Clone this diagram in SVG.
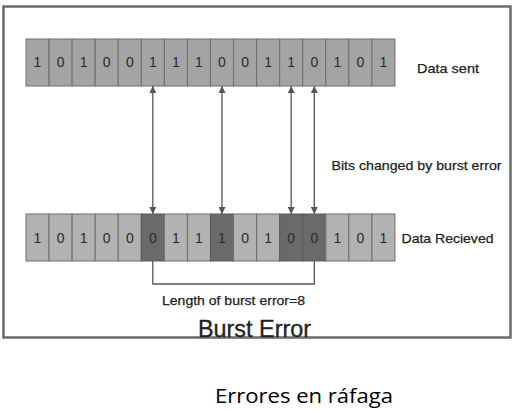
<svg xmlns="http://www.w3.org/2000/svg" width="515" height="410" viewBox="0 0 515 410">
<style>
.frame{fill:#fff;stroke:#6a6a6a;stroke-width:2.5}
.c1{fill:#a4a4a4;stroke:#6e6e6e;stroke-width:1}
.c2{fill:#b2b2b2;stroke:#6e6e6e;stroke-width:1}
.cd{fill:#6a6a6a;stroke:#5a5a5a;stroke-width:1}
.d{font-family:"Liberation Sans",Arial,sans-serif;font-size:14px;fill:#2a2a2a;text-anchor:middle}
.lbl{font-family:"Liberation Sans",Arial,sans-serif;font-size:13.5px;fill:#222;stroke:#222;stroke-width:0.25}
.conn{stroke:#555;stroke-width:1.3;fill:none}
</style>
<defs>
<marker id="ah" viewBox="0 0 10 10" refX="10" refY="5" markerWidth="7" markerHeight="7" orient="auto-start-reverse" markerUnits="userSpaceOnUse">
<path d="M0,0 L10,5 L0,10 Z" fill="#555"/>
</marker>
</defs>
<rect class="frame" x="3.5" y="6.5" width="507" height="331"/>
<g id="data-sent">
<rect class="c1" x="26" y="39" width="23.06" height="47"/>
<rect class="c1" x="49.06" y="39" width="23.06" height="47"/>
<rect class="c1" x="72.12" y="39" width="23.06" height="47"/>
<rect class="c1" x="95.18" y="39" width="23.06" height="47"/>
<rect class="c1" x="118.24" y="39" width="23.06" height="47"/>
<rect class="c1" x="141.3" y="39" width="23.06" height="47"/>
<rect class="c1" x="164.36" y="39" width="23.06" height="47"/>
<rect class="c1" x="187.42" y="39" width="23.06" height="47"/>
<rect class="c1" x="210.48" y="39" width="23.06" height="47"/>
<rect class="c1" x="233.54" y="39" width="23.06" height="47"/>
<rect class="c1" x="256.6" y="39" width="23.06" height="47"/>
<rect class="c1" x="279.66" y="39" width="23.06" height="47"/>
<rect class="c1" x="302.72" y="39" width="23.06" height="47"/>
<rect class="c1" x="325.78" y="39" width="23.06" height="47"/>
<rect class="c1" x="348.84" y="39" width="23.06" height="47"/>
<rect class="c1" x="371.9" y="39" width="23.06" height="47"/>
<text class="d" y="67"><tspan x="37.5">1</tspan><tspan x="60.6">0</tspan><tspan x="83.7">1</tspan><tspan x="106.7">0</tspan><tspan x="129.8">0</tspan><tspan x="152.8">1</tspan><tspan x="175.9">1</tspan><tspan x="199">1</tspan><tspan x="222">0</tspan><tspan x="245.1">0</tspan><tspan x="268.1">1</tspan><tspan x="291.2">1</tspan><tspan x="314.3">0</tspan><tspan x="337.3">1</tspan><tspan x="360.4">0</tspan><tspan x="383.4">1</tspan></text>
<text class="lbl" x="417" y="73" textLength="62" lengthAdjust="spacingAndGlyphs">Data sent</text>
</g>
<g id="data-received">
<rect class="c2" x="26" y="214" width="23.06" height="47"/>
<rect class="c2" x="49.06" y="214" width="23.06" height="47"/>
<rect class="c2" x="72.12" y="214" width="23.06" height="47"/>
<rect class="c2" x="95.18" y="214" width="23.06" height="47"/>
<rect class="c2" x="118.24" y="214" width="23.06" height="47"/>
<rect class="cd" x="141.3" y="214" width="23.06" height="47"/>
<rect class="c2" x="164.36" y="214" width="23.06" height="47"/>
<rect class="c2" x="187.42" y="214" width="23.06" height="47"/>
<rect class="cd" x="210.48" y="214" width="23.06" height="47"/>
<rect class="c2" x="233.54" y="214" width="23.06" height="47"/>
<rect class="c2" x="256.6" y="214" width="23.06" height="47"/>
<rect class="cd" x="279.66" y="214" width="23.06" height="47"/>
<rect class="cd" x="302.72" y="214" width="23.06" height="47"/>
<rect class="c2" x="325.78" y="214" width="23.06" height="47"/>
<rect class="c2" x="348.84" y="214" width="23.06" height="47"/>
<rect class="c2" x="371.9" y="214" width="23.06" height="47"/>
<text class="d" y="243"><tspan x="37.5">1</tspan><tspan x="60.6">0</tspan><tspan x="83.7">1</tspan><tspan x="106.7">0</tspan><tspan x="129.8">0</tspan><tspan x="152.8">0</tspan><tspan x="175.9">1</tspan><tspan x="199">1</tspan><tspan x="222">1</tspan><tspan x="245.1">0</tspan><tspan x="268.1">1</tspan><tspan x="291.2">0</tspan><tspan x="314.3">0</tspan><tspan x="337.3">1</tspan><tspan x="360.4">0</tspan><tspan x="383.4">1</tspan></text>
<text class="lbl" x="401.5" y="243" textLength="92" lengthAdjust="spacingAndGlyphs">Data Recieved</text>
</g>
<g id="connectors">
<line class="conn" x1="152.8" y1="86" x2="152.8" y2="214" marker-start="url(#ah)" marker-end="url(#ah)"/>
<line class="conn" x1="222" y1="86" x2="222" y2="214" marker-start="url(#ah)" marker-end="url(#ah)"/>
<line class="conn" x1="291.2" y1="86" x2="291.2" y2="214" marker-start="url(#ah)" marker-end="url(#ah)"/>
<line class="conn" x1="314.3" y1="86" x2="314.3" y2="214" marker-start="url(#ah)" marker-end="url(#ah)"/>
<polyline class="conn" points="152.8,261 152.8,284 314.3,284 314.3,261"/>
</g>
<g id="labels">
<text class="lbl" x="331.5" y="170" textLength="170" lengthAdjust="spacingAndGlyphs">Bits changed by burst error</text>
<text class="lbl" x="162" y="305" textLength="143" lengthAdjust="spacingAndGlyphs">Length of burst error=8</text>
<text x="198" y="337" font-family="'Liberation Sans',Arial,sans-serif" font-size="23" fill="#222" stroke="#222" stroke-width="0.3" textLength="113" lengthAdjust="spacingAndGlyphs">Burst Error</text>
</g>
<text x="215" y="403" font-family="'Open Sans','Liberation Sans',sans-serif" font-size="20" fill="#000" textLength="178" lengthAdjust="spacingAndGlyphs">Errores en ráfaga</text>
</svg>
